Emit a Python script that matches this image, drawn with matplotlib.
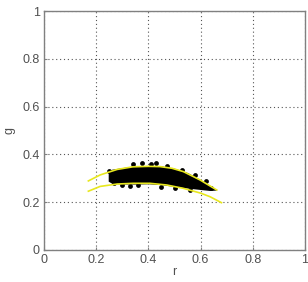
import matplotlib
matplotlib.use("Agg")
import matplotlib.pyplot as plt
import numpy as np

# Yellow boundary curves
upper_r = [0.17, 0.215, 0.28, 0.34, 0.40, 0.444, 0.49, 0.534, 0.598, 0.662]
upper_g = [0.289, 0.314, 0.337, 0.348, 0.350, 0.349, 0.342, 0.328, 0.293, 0.251]
lower_r = [0.17, 0.215, 0.28, 0.342, 0.406, 0.47, 0.534, 0.60, 0.636, 0.68]
lower_g = [0.246, 0.266, 0.276, 0.279, 0.279, 0.272, 0.258, 0.238, 0.223, 0.198]

# Black data cloud outline
cloud_r = [0.246, 0.26, 0.30, 0.35, 0.40, 0.45, 0.50, 0.55, 0.60, 0.636, 0.662]
cloud_top = [0.332, 0.338, 0.345, 0.352, 0.354, 0.352, 0.342, 0.324, 0.294, 0.270, 0.251]
cloud_bot = [0.288, 0.279, 0.276, 0.276, 0.277, 0.273, 0.266, 0.259, 0.253, 0.249, 0.251]

# Scattered edge points
pts_r = [0.25, 0.342, 0.375, 0.41, 0.43, 0.30, 0.33, 0.45, 0.50, 0.56, 0.64, 0.58, 0.62, 0.27, 0.47, 0.36, 0.53]
pts_g = [0.332, 0.360, 0.362, 0.358, 0.362, 0.270, 0.268, 0.265, 0.260, 0.253, 0.260, 0.312, 0.288, 0.279, 0.352, 0.272, 0.334]

ticks = [0, 0.2, 0.4, 0.6, 0.8, 1]
tick_labels = ["0", "0.2", "0.4", "0.6", "0.8", "1"]

plt.rcParams['font.family'] = ['Liberation Sans', 'DejaVu Sans']
fig = plt.figure(figsize=(3.08, 2.82), dpi=100)
ax = fig.add_axes([44/308, 32/282, 261/308, 239/282])

ax.fill_between(cloud_r, cloud_bot, cloud_top, color='black', lw=0, zorder=3)
ax.scatter(pts_r, pts_g, s=12, color='black', lw=0, zorder=3)
ax.plot(upper_r, upper_g, color='#e8e81e', lw=1.2, zorder=4)
ax.plot(lower_r, lower_g, color='#e8e81e', lw=1.2, zorder=4)

ax.set_xlim(0, 1)
ax.set_ylim(0, 1)
ax.set_xticks(ticks)
ax.set_xticklabels(tick_labels)
ax.set_yticks(ticks)
ax.set_yticklabels(tick_labels)
ax.tick_params(direction='in', length=2, colors='#808080', labelcolor='#505050', labelsize=9, pad=3)
ax.grid(True, linestyle=(0, (1, 2.5)), color='#555555', lw=0.8)
for s in ax.spines.values():
    s.set_color('#808080')
    s.set_linewidth(1.0)
ax.set_xlabel('r', fontsize=9, color='#505050', labelpad=0)
ax.set_ylabel('g', fontsize=9, color='#505050', labelpad=5)

fig.savefig('out.png', dpi=100)
